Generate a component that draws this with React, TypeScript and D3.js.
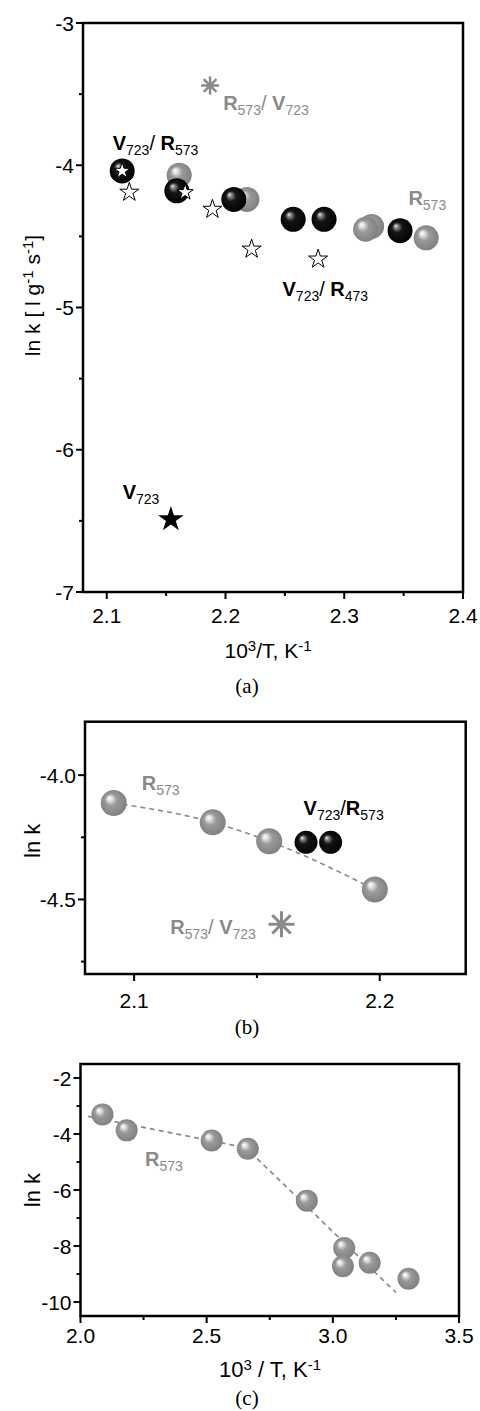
import React from "react";
import * as d3 from "d3";

const FONT = "'Liberation Sans', Arial, Helvetica, sans-serif";
const SERIF = "'Liberation Serif', 'Times New Roman', serif";
const GREY = "#8a8a8a";

// ---------- Panel (a) data ----------
const aXTicks = [2.1, 2.2, 2.3, 2.4];
const aXMinor = [2.15, 2.25, 2.35];
const aYTicks = [-3, -4, -5, -6, -7];
const aYMinor = [-3.5, -4.5, -5.5, -6.5];
const aGreySpheres: [number, number][] = [[2.161, -4.07], [2.218, -4.24], [2.323, -4.43], [2.318, -4.45], [2.369, -4.51]];
const aBlackSpheres: [number, number][] = [[2.113, -4.04], [2.159, -4.18], [2.207, -4.24], [2.257, -4.38], [2.283, -4.38], [2.347, -4.46]];
const aWhiteStars: [number, number][] = [[2.113, -4.04], [2.119, -4.19], [2.166, -4.19], [2.189, -4.31], [2.222, -4.59], [2.278, -4.66]];
const aAsterisks: [number, number][] = [[2.187, -3.44]];
const aBlackStars: [number, number][] = [[2.154, -6.49]];

// ---------- Panel (b) data ----------
const bXTicks = [2.1, 2.2];
const bXMinor = [2.15];
const bYTicks = [-4.0, -4.5];
const bYMinor = [-4.25, -4.75];
const bGreySpheres: [number, number][] = [[2.0917, -4.112], [2.132, -4.19], [2.155, -4.266], [2.198, -4.46]];
const bBlackSpheres: [number, number][] = [[2.170, -4.27], [2.180, -4.27]];
const bAsterisks: [number, number][] = [[2.160, -4.60]];

// ---------- Panel (c) data ----------
const cXTicks = [2.0, 2.5, 3.0, 3.5];
const cXMinor = [2.25, 2.75, 3.25];
const cYTicks = [-2, -4, -6, -8, -10];
const cYMinor = [-3, -5, -7, -9];
const cGreySpheres: [number, number][] = [[2.087, -3.30], [2.183, -3.87], [2.52, -4.23], [2.663, -4.53], [2.897, -6.38], [3.045, -8.07], [3.04, -8.72], [3.146, -8.60], [3.30, -9.17]];
const cFit1: [number, number][] = [[2.03, -3.37], [2.70, -4.57]];
const cFit2: [number, number][] = [[2.70, -4.88], [3.25, -9.66]];

type Part = [string, string?];
type Lbl = { x: number; y: number; color: string; parts: Part[] };

const aLabels: Lbl[] = [
  { x: 2.105, y: -3.89, color: "#000", parts: [["V", "b"], ["723", "sub"], ["/ "], ["R", "b"], ["573", "sub"]] },
  { x: 2.198, y: -3.61, color: GREY, parts: [["R", "b"], ["573", "sub"], ["/ "], ["V", "b"], ["723", "sub"]] },
  { x: 2.354, y: -4.277, color: GREY, parts: [["R", "b"], ["573", "sub"]] },
  { x: 2.248, y: -4.92, color: "#000", parts: [["V", "b"], ["723", "sub"], ["/ "], ["R", "b"], ["473", "sub"]] },
  { x: 2.1134, y: -6.347, color: "#000", parts: [["V", "b"], ["723", "sub"]] },
];
const bLabels: Lbl[] = [
  { x: 2.1031, y: -4.06, color: GREY, parts: [["R", "b"], ["573", "sub"]] },
  { x: 2.169, y: -4.16, color: "#000", parts: [["V", "b"], ["723", "sub"], ["/"], ["R", "b"], ["573", "sub"]] },
  { x: 2.1147, y: -4.64, color: GREY, parts: [["R", "b"], ["573", "sub"], ["/ "], ["V", "b"], ["723", "sub"]] },
];
const cLabels: Lbl[] = [
  { x: 2.256, y: -5.16, color: GREY, parts: [["R", "b"], ["573", "sub"]] },
];

function renderParts(parts: Part[], size: number, small: number, shift: number) {
  let cur = 0;
  return parts.map((p, i) => {
    const k = p[1] || "";
    const target = k === "sub" ? shift : k === "sup" ? -shift * 1.4 : 0;
    const dy = target - cur;
    cur = target;
    return (
      <tspan key={i} dy={dy} fontWeight={k === "b" ? "bold" : "normal"} fontSize={k === "sub" || k === "sup" ? small : size}>
        {p[0]}
      </tspan>
    );
  });
}

function starPath(R: number) {
  const ka = 0.8908130915292852;
  return d3.symbol().type(d3.symbolStar).size((R * R) / ka)()!;
}

function asteriskPath(R: number) {
  const p = d3.path();
  for (let i = 0; i < 4; i++) {
    const a = (i * Math.PI) / 4;
    p.moveTo(-R * Math.cos(a), -R * Math.sin(a));
    p.lineTo(R * Math.cos(a), R * Math.sin(a));
  }
  return p.toString();
}

type AxProps = {
  x: d3.ScaleLinear<number, number>;
  y: d3.ScaleLinear<number, number>;
  xt: number[]; xm: number[]; yt: number[]; ym: number[];
  xf: (n: number) => string; yf: (n: number) => string;
  fs: number; xLabBase: number;
};

function Frame({ x, y, xt, xm, yt, ym, xf, yf, fs, xLabBase }: AxProps) {
  const [x0, x1] = x.range();
  const [y0, y1] = y.range();
  return (
    <g>
      <rect x={x0} y={y1} width={x1 - x0} height={y0 - y1} fill="none" stroke="#000" strokeWidth={2.5} />
      {xt.map((t) => (
        <g key={"xt" + t}>
          <line x1={x(t)} x2={x(t)} y1={y0} y2={y0 + 7} stroke="#000" strokeWidth={2} />
          <text x={x(t)} y={xLabBase} textAnchor="middle" fontSize={fs} fontFamily={FONT}>{xf(t)}</text>
        </g>
      ))}
      {xm.map((t) => (
        <line key={"xm" + t} x1={x(t)} x2={x(t)} y1={y0} y2={y0 + 4} stroke="#000" strokeWidth={2} />
      ))}
      {yt.map((t) => (
        <g key={"yt" + t}>
          <line x1={x0 - 7} x2={x0} y1={y(t)} y2={y(t)} stroke="#000" strokeWidth={2} />
          <text x={x0 - 9} y={y(t)} dy="0.36em" textAnchor="end" fontSize={fs} fontFamily={FONT}>{yf(t)}</text>
        </g>
      ))}
      {ym.map((t) => (
        <line key={"ym" + t} x1={x0 - 4} x2={x0} y1={y(t)} y2={y(t)} stroke="#000" strokeWidth={2} />
      ))}
    </g>
  );
}

function Spheres({ pts, x, y, r, grad }: { pts: [number, number][]; x: any; y: any; r: number; grad: string }) {
  return (
    <g>
      {pts.map((p, i) => (
        <circle key={i} cx={x(p[0])} cy={y(p[1])} r={r} fill={`url(#${grad})`} />
      ))}
    </g>
  );
}

function Labels({ items, x, y, fs, sub }: { items: Lbl[]; x: any; y: any; fs: number; sub: number }) {
  return (
    <g>
      {items.map((l, i) => (
        <text key={i} x={x(l.x)} y={y(l.y)} fill={l.color} fontFamily={FONT} fontSize={fs}>
          {renderParts(l.parts, fs, sub, 5)}
        </text>
      ))}
    </g>
  );
}

export default function App() {
  const ax = d3.scaleLinear().domain([2.08, 2.4]).range([83, 463]);
  const ay = d3.scaleLinear().domain([-7, -3]).range([592, 23]);
  const bx = d3.scaleLinear().domain([2.08, 2.235]).range([85, 465.7]);
  const by = d3.scaleLinear().domain([-4.8, -3.785]).range([974, 721.7]);
  const cx = d3.scaleLinear().domain([2.0, 3.5]).range([80.5, 459]);
  const cy = d3.scaleLinear().domain([-10.5, -1.5]).range([1316, 1064]);

  const f0 = d3.format(".0f");
  const f1 = d3.format(".1f");
  const hy = (f: (n: number) => string) => (n: number) => f(n).replace("−", "-");

  const bLine = d3.line<[number, number]>().x((d) => bx(d[0])).y((d) => by(d[1])).curve(d3.curveMonotoneX);
  const cLine = d3.line<[number, number]>().x((d) => cx(d[0])).y((d) => cy(d[1]));

  const star10 = starPath(10);
  const star8 = starPath(8.5);
  const star13 = starPath(13.5);

  return (
    <svg width={480} height={1411} style={{ position: "absolute", left: 0, top: 0, background: "#fff" }} fontFamily={FONT}>
      <defs>
        <radialGradient id="gGrey" cx="0.5" cy="0.5" r="0.55" fx="0.32" fy="0.3">
          <stop offset="0" stopColor="#ffffff" />
          <stop offset="0.15" stopColor="#e6e6e6" />
          <stop offset="0.42" stopColor="#9a9a9a" />
          <stop offset="0.85" stopColor="#858585" />
          <stop offset="1" stopColor="#7a7a7a" />
        </radialGradient>
        <radialGradient id="gBlack" cx="0.5" cy="0.5" r="0.55" fx="0.32" fy="0.3">
          <stop offset="0" stopColor="#eeeeee" />
          <stop offset="0.14" stopColor="#8a8a8a" />
          <stop offset="0.38" stopColor="#151515" />
          <stop offset="1" stopColor="#000000" />
        </radialGradient>
      </defs>

      {/* ---------- Panel (a) ---------- */}
      <Frame x={ax} y={ay} xt={aXTicks} xm={aXMinor} yt={aYTicks} ym={aYMinor} xf={f1} yf={hy(f0)} fs={21} xLabBase={623} />
      <Spheres pts={aGreySpheres} x={ax} y={ay} r={12.5} grad="gGrey" />
      <Spheres pts={aBlackSpheres} x={ax} y={ay} r={12.5} grad="gBlack" />
      {aWhiteStars.map((p, i) => (
        <path key={i} d={i === 0 || i === 2 ? star8 : star10} transform={`translate(${ax(p[0])},${ay(p[1])})`} fill="#fff" stroke="#000" strokeWidth={1} />
      ))}
      {aAsterisks.map((p, i) => (
        <path key={i} d={asteriskPath(9)} transform={`translate(${ax(p[0])},${ay(p[1])})`} stroke={GREY} strokeWidth={2.5} fill="none" />
      ))}
      {aBlackStars.map((p, i) => (
        <path key={i} d={star13} transform={`translate(${ax(p[0])},${ay(p[1])})`} fill="#000" />
      ))}
      <Labels items={aLabels} x={ax} y={ay} fs={20} sub={14} />
      <text x={268} y={658} textAnchor="middle" fontSize={21}>
        {renderParts([["10"], ["3", "sup"], ["/T, K"], ["-1", "sup"]], 21, 15, 5)}
      </text>
      <text transform={`translate(40,${(23 + 592) / 2 - 12}) rotate(-90)`} textAnchor="middle" fontSize={21}>
        {renderParts([["ln k [ l g"], ["-1", "sup"], [" s"], ["-1", "sup"], ["]"]], 21, 15, 5)}
      </text>
      <text x={247} y={693} textAnchor="middle" fontFamily={SERIF} fontSize={21}>(a)</text>

      {/* ---------- Panel (b) ---------- */}
      <Frame x={bx} y={by} xt={bXTicks} xm={bXMinor} yt={bYTicks} ym={bYMinor} xf={f1} yf={hy(f1)} fs={21} xLabBase={1008} />
      <path d={bLine(bGreySpheres)!} fill="none" stroke={GREY} strokeWidth={1.6} strokeDasharray="5,4" />
      <Spheres pts={bGreySpheres} x={bx} y={by} r={13} grad="gGrey" />
      <Spheres pts={bBlackSpheres} x={bx} y={by} r={11.5} grad="gBlack" />
      {bAsterisks.map((p, i) => (
        <path key={i} d={asteriskPath(13)} transform={`translate(${bx(p[0])},${by(p[1])})`} stroke={GREY} strokeWidth={3} fill="none" />
      ))}
      <Labels items={bLabels} x={bx} y={by} fs={20} sub={14} />
      <text transform={`translate(40,${(721.7 + 974) / 2 - 7}) rotate(-90)`} textAnchor="middle" fontSize={22}>ln k</text>
      <text x={247} y={1034} textAnchor="middle" fontFamily={SERIF} fontSize={21}>(b)</text>

      {/* ---------- Panel (c) ---------- */}
      <Frame x={cx} y={cy} xt={cXTicks} xm={cXMinor} yt={cYTicks} ym={cYMinor} xf={f1} yf={hy(f0)} fs={21} xLabBase={1343} />
      <path d={cLine(cFit1)!} fill="none" stroke={GREY} strokeWidth={1.6} strokeDasharray="5,4" />
      <path d={cLine(cFit2)!} fill="none" stroke={GREY} strokeWidth={1.6} strokeDasharray="5,4" />
      <Spheres pts={cGreySpheres} x={cx} y={cy} r={11} grad="gGrey" />
      <Labels items={cLabels} x={cx} y={cy} fs={20} sub={14} />
      <text x={270} y={1377} textAnchor="middle" fontSize={22}>
        {renderParts([["10"], ["3", "sup"], [" / T, K"], ["-1", "sup"]], 22, 15, 5)}
      </text>
      <text transform={`translate(40,${(1064 + 1316) / 2}) rotate(-90)`} textAnchor="middle" fontSize={22}>ln k</text>
      <text x={247} y={1405} textAnchor="middle" fontFamily={SERIF} fontSize={21}>(c)</text>
    </svg>
  );
}
